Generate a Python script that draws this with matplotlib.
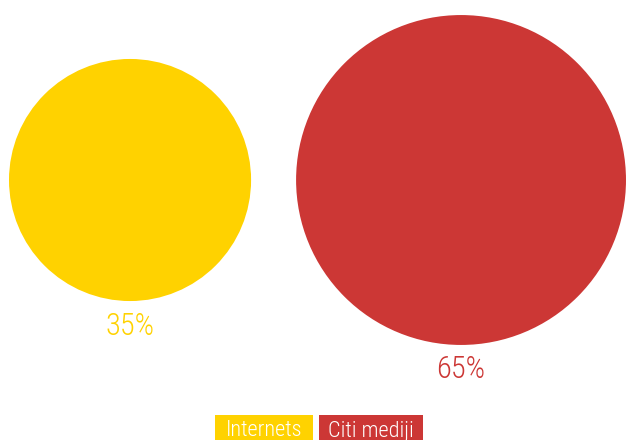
import numpy as np
import matplotlib.pyplot as plt
from matplotlib.patches import Circle, Rectangle

labels = ["Internets", "Citi mediji"]
values = [35, 65]
colors = ["#FFD200", "#CC3735"]

plt.rcParams['font.family'] = ['Liberation Sans Narrow', 'Roboto Condensed', 'Roboto', 'DejaVu Sans']

W, H = 626, 440
fig = plt.figure(figsize=(W / 100, H / 100), dpi=100)
ax = fig.add_axes([0, 0, 1, 1])
ax.set_xlim(0, W)
ax.set_ylim(H, 0)
ax.set_aspect('equal')
ax.axis('off')

scale = 20.46
radii = [scale * np.sqrt(v) for v in values]
cy = 180
gap = 45
x = 9
for val, r, c in zip(values, radii, colors):
    cx = x + r
    ax.add_patch(Circle((cx, cy), r, color=c, lw=0))
    ax.text(cx, cy + r + 25, f"{val}%", color=c, fontsize=22,
            fontweight='light', ha='center', va='center')
    x = cx + r + gap

# legend boxes
box_x = [215, 319]
box_w = [98, 104]
for lab, c, bx, bw in zip(labels, colors, box_x, box_w):
    ax.add_patch(Rectangle((bx, 415), bw, 30, color=c, lw=0))
    ax.text(bx + bw / 2, 431, lab, color='white', fontsize=16,
            fontweight='light', ha='center', va='center')

fig.savefig("out.png", dpi=100)
